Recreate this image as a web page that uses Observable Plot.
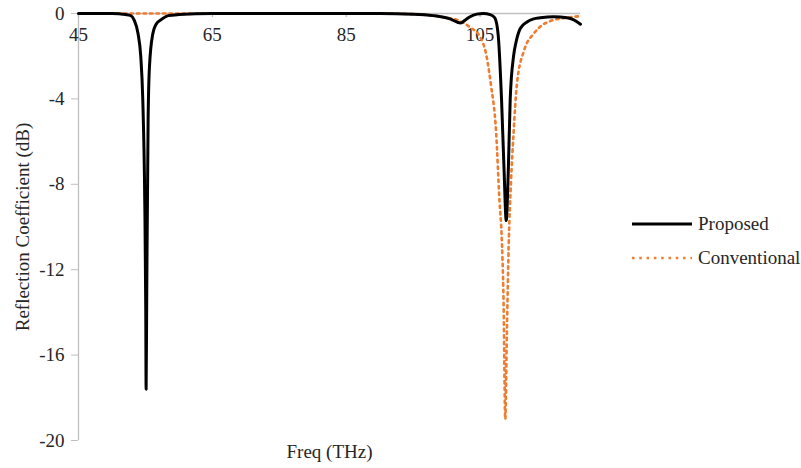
<!DOCTYPE html>
<html>
<head>
<meta charset="utf-8">
<script src="https://cdn.jsdelivr.net/npm/d3@7"></script>
<script src="https://cdn.jsdelivr.net/npm/@observablehq/plot@0.6"></script>
<style>
  html, body { margin: 0; padding: 0; background: #fff; }
  #wrap { position: relative; width: 801px; height: 468px; font-family: "Liberation Serif", "Times New Roman", serif; }
  .leg { position: absolute; left: 632px; height: 20px; display: flex; align-items: center; font-size: 19px; color: #262626; white-space: nowrap; }
  .leg svg { margin-right: 6px; }
</style>
</head>
<body>
<div id="wrap"></div>
<script>
// Proposed series (freq THz, reflection dB)
const propFreq = [45, 50, 52, 52.8, 53.3, 53.9, 54.3, 54.6, 54.9, 55.05, 55.1, 55.2, 55.4, 55.6, 56.1, 56.6, 57.3, 58.4, 60, 65, 70, 80, 90, 95, 98, 100.5, 102.1, 102.8, 103.5, 104.5, 105.5, 106.5, 107.2, 107.7, 108.2, 108.6, 108.9, 109.2, 109.5, 110, 110.4, 111, 112, 113, 114, 116, 118, 119, 120];
const propVal  = [0, 0, -0.05, -0.1, -0.3, -0.95, -2.0, -4, -8.8, -14, -17.6, -13, -5, -2.5, -0.95, -0.5, -0.3, -0.1, -0.05, 0, 0, 0, 0, -0.03, -0.1, -0.25, -0.45, -0.3, -0.15, -0.03, 0, -0.05, -0.2, -1.0, -4, -7.5, -9.7, -7.5, -4, -2, -1.3, -0.7, -0.4, -0.25, -0.2, -0.15, -0.2, -0.3, -0.5];

// Conventional series
const convFreq = [45, 50, 60, 70, 80, 90, 95, 98, 100, 102, 103.5, 105, 105.9, 106.6, 107.4, 107.9, 108.2, 108.5, 108.76, 109.0, 109.3, 109.6, 110.0, 110.5, 111.6, 113, 115.7, 118, 120];
const convVal  = [0, 0, 0, 0, 0, 0, -0.03, -0.1, -0.2, -0.35, -0.65, -1.1, -1.9, -3.3, -5.6, -8.8, -10.3, -13.4, -19, -15, -10.5, -8, -5.6, -3.3, -1.7, -0.95, -0.33, -0.2, -0.12];

const xTicks = [45, 65, 85, 105];
const yTicks = [0, -4, -8, -12, -16, -20];
const seriesNames = ["Proposed", "Conventional"];
const xLabel = "Freq (THz)";
const yLabel = "Reflection Coefficient (dB)";

const proposed = propFreq.map((f, i) => ({f, v: propVal[i]}));
const conventional = convFreq.map((f, i) => ({f, v: convVal[i]}));

const axisGray = "#bfbfbf";
const textCol = "#262626";
const orange = "#ED7D31";
const serif = "'Liberation Serif', 'Times New Roman', serif";
const fs = 19;

const chart = Plot.plot({
  width: 801,
  height: 468,
  marginLeft: 78,
  marginRight: 221,
  marginTop: 13,
  marginBottom: 28,
  style: {fontFamily: serif, fontSize: fs + "px", color: textCol, background: "#fff"},
  x: {domain: [45, 120], axis: null},
  y: {domain: [-20, 0], axis: null},
  marks: [
    Plot.ruleX([45], {stroke: axisGray, strokeWidth: 1.3}),
    Plot.ruleY([0], {stroke: axisGray, strokeWidth: 1.3}),
    Plot.ruleX(xTicks, {x: d => d, y1: 0, y2: -0.19, stroke: axisGray, strokeWidth: 1.3}),
    Plot.axisY({ticks: yTicks, tickSize: 7, tickPadding: 7, stroke: axisGray, color: textCol, fontSize: fs, fontFamily: serif, label: null, tickFormat: d => String(d)}),
    Plot.text(xTicks, {x: d => d, y: 0, dy: 21, text: d => String(d), fill: textCol, fontSize: fs, fontFamily: serif}),
    Plot.line(conventional, {x: "f", y: "v", stroke: orange, strokeWidth: 2.6, strokeDasharray: "2.5,4", curve: "monotone-x"}),
    Plot.line(proposed, {x: "f", y: "v", stroke: "#000", strokeWidth: 3, curve: "monotone-x"}),
    Plot.text([xLabel], {frameAnchor: "bottom", dy: 17, fill: textCol, fontSize: fs, fontFamily: serif}),
    Plot.text([yLabel], {frameAnchor: "left", textAnchor: "middle", dx: -56, rotate: -90, fill: textCol, fontSize: fs, fontFamily: serif})
  ]
});

const wrap = document.getElementById("wrap");
wrap.appendChild(chart);

const legendItems = [
  {name: seriesNames[0], top: 214, svg: `<svg width="60" height="6"><line x1="0" x2="60" y1="3" y2="3" stroke="#000" stroke-width="3"/></svg>`},
  {name: seriesNames[1], top: 248, svg: `<svg width="60" height="6"><line x1="0" x2="60" y1="3" y2="3" stroke="${orange}" stroke-width="2.6" stroke-dasharray="2.5,4.8"/></svg>`}
];
for (const it of legendItems) {
  const d = document.createElement("div");
  d.className = "leg";
  d.style.top = it.top + "px";
  d.innerHTML = it.svg + `<span>${it.name}</span>`;
  wrap.appendChild(d);
}
</script>
</body>
</html>
